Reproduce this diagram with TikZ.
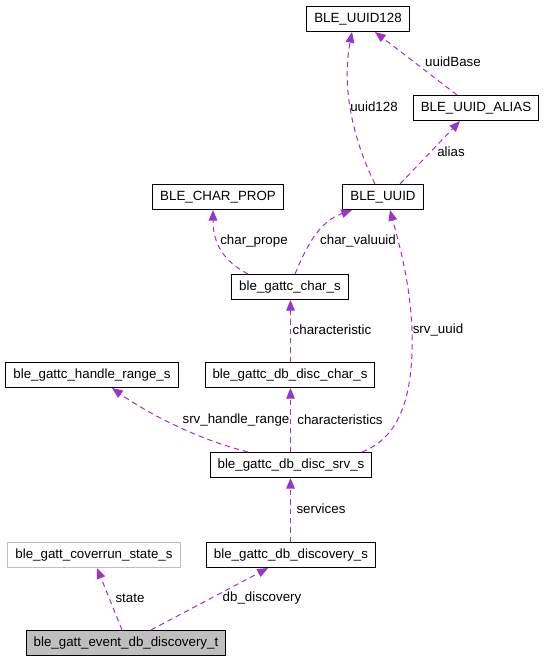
\documentclass[tikz,border=0pt]{standalone}
\usepackage{fontspec}
\setmainfont{Liberation Sans}
\usetikzlibrary{arrows.meta,calc}
\definecolor{edgepurple}{HTML}{9A32CD}
\definecolor{boxgray}{HTML}{BFBFBF}

\begin{document}
\begin{tikzpicture}[x=0.75pt,y=-0.75pt,
  cls/.style={draw=black, line width=0.8pt, minimum height=18.75pt, inner xsep=5.6pt, inner ysep=0pt, font=\fontsize{10}{12}\selectfont},
  lbl/.style={font=\fontsize{10}{12}\selectfont, inner sep=1pt},
  member/.style={draw=edgepurple, line width=0.75pt, dash pattern=on 4pt off 3pt, -{Triangle[length=8pt,width=6.5pt,fill=edgepurple]}}]
\useasboundingbox (0,0) rectangle (549,663);

% Classes
\node[cls] (uuid128) at (358,19) {BLE\_UUID128};
\node[cls] (alias) at (476,108) {BLE\_UUID\_ALIAS};
\node[cls] (charprop) at (218,197) {BLE\_CHAR\_PROP};
\node[cls] (uuid) at (383,197) {BLE\_UUID};
\node[cls] (chars) at (290,287) {ble\_gattc\_char\_s};
\node[cls] (handlerange) at (92,375) {ble\_gattc\_handle\_range\_s};
\node[cls] (discchar) at (290,375) {ble\_gattc\_db\_disc\_char\_s};
\node[cls] (discsrv) at (291,465) {ble\_gattc\_db\_disc\_srv\_s};
\node[cls, draw=boxgray] (coverrun) at (94,555) {ble\_gatt\_coverrun\_state\_s};
\node[cls] (discovery) at (291,555) {ble\_gattc\_db\_discovery\_s};
\node[cls, fill=boxgray] (event) at (126,643) {ble\_gatt\_event\_db\_discovery\_t};

% Members
\draw[member] ($(event.north)+(-4,0)$) -- ($(coverrun.south)+(3,0)$);
\node[lbl] at (130,598) {state};
\draw[member] ($(event.north)+(25,0)$) -- ($(discovery.south)+(-23,0)$);
\node[lbl] at (262,598) {db\_discovery};

\draw[member] ($(discovery.north)+(-0.5,0)$) -- ($(discsrv.south)+(-0.5,0)$);
\node[lbl] at (321,509) {services};

\draw[member] ($(discsrv.north)+(-43,0)$) .. controls (200,440) and (150,415) .. ($(handlerange.south)+(20,0)$);
\node[lbl] at (236,420) {srv\_handle\_range};
\draw[member] ($(discsrv.north)+(-0.5,0)$) -- ($(discchar.south)+(0.5,0)$);
\node[lbl] at (340,420) {characteristics};
\draw[member] ($(discsrv.north)+(71,0)$) .. controls (398,438) and (414,400) .. (412,330)
  .. controls (410,280) and (398,240) .. ($(uuid.south)+(7,0)$);
\node[lbl] at (438,330) {srv\_uuid};

\draw[member] ($(discchar.north)+(0.5,0)$) -- ($(chars.south)+(0.5,0)$);
\node[lbl] at (332,330) {characteristic};

\draw[member] ($(chars.north)+(-42,0)$) .. controls (225,262) and (213,245) .. ($(charprop.south)+(-5,0)$);
\node[lbl] at (254,241) {char\_prope};
\draw[member] ($(chars.north)+(5,0)$) .. controls (306,248) and (318,222) .. ($(uuid.south)+(-31,0)$);
\node[lbl] at (358,241) {char\_valuuid};

\draw[member] ($(uuid.north)+(-8,0)$) .. controls (358,150) and (340,95) .. ($(uuid128.south)+(-6,0)$);
\node[lbl] at (374,107) {uuid128};
\draw[member] ($(uuid.north)+(17,0)$) -- ($(alias.south)+(-16,0)$);
\node[lbl] at (451,152) {alias};

\draw[member] ($(alias.north)+(-19,0)$) -- ($(uuid128.south)+(17,0)$);
\node[lbl] at (453,62) {uuidBase};
\end{tikzpicture}
\end{document}
